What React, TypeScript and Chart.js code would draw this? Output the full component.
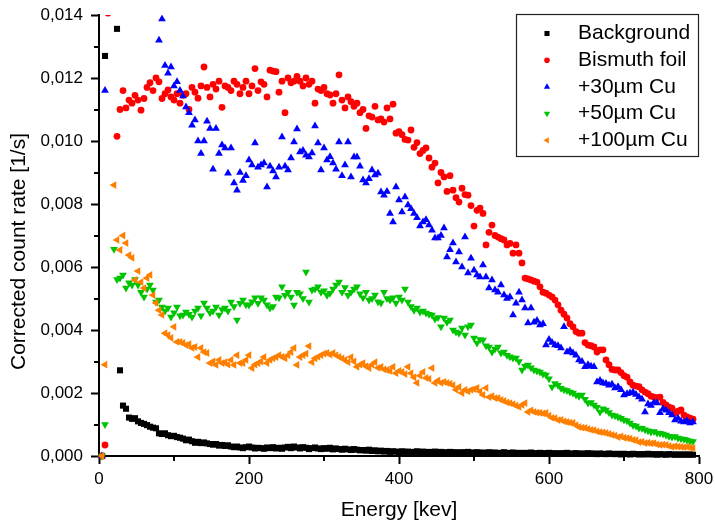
import React, { useEffect, useRef } from "react";
import { Chart, registerables } from "chart.js";

Chart.register(...registerables);

// Energy channels [keV]
const energies = [
  4, 8, 12, 16, 20, 24, 28, 32, 36, 40, 44, 48, 52, 56, 60, 64, 68, 72, 76, 80,
  84, 88, 92, 96, 100, 104, 108, 112, 116, 120, 124, 128, 132, 136, 140, 144, 148, 152, 156, 160,
  164, 168, 172, 176, 180, 184, 188, 192, 196, 200, 204, 208, 212, 216, 220, 224, 228, 232, 236, 240,
  244, 248, 252, 256, 260, 264, 268, 272, 276, 280, 284, 288, 292, 296, 300, 304, 308, 312, 316, 320,
  324, 328, 332, 336, 340, 344, 348, 352, 356, 360, 364, 368, 372, 376, 380, 384, 388, 392, 396, 400,
  404, 408, 412, 416, 420, 424, 428, 432, 436, 440, 444, 448, 452, 456, 460, 464, 468, 472, 476, 480,
  484, 488, 492, 496, 500, 504, 508, 512, 516, 520, 524, 528, 532, 536, 540, 544, 548, 552, 556, 560,
  564, 568, 572, 576, 580, 584, 588, 592, 596, 600, 604, 608, 612, 616, 620, 624, 628, 632, 636, 640,
  644, 648, 652, 656, 660, 664, 668, 672, 676, 680, 684, 688, 692, 696, 700, 704, 708, 712, 716, 720,
  724, 728, 732, 736, 740, 744, 748, 752, 756, 760, 764, 768, 772, 776, 780, 784, 788, 792,
];

// Corrected count rates [1/s]
const background = [
  0, 12.7e-3, null, null, null, 13.56e-3, 2.72e-3, 1.6e-3, 1.5e-3, 1.22e-3,
  1.18e-3, 1.2e-3, 1.1e-3, 1.05e-3, 1.02e-3, 0.98e-3, 0.93e-3, 0.9e-3, 0.88e-3, 0.72e-3,
  0.7e-3, 0.72e-3, 0.66e-3, 0.63e-3, 0.64e-3, 0.6e-3, 0.58e-3, 0.55e-3, 0.5e-3, 0.52e-3,
  0.47e-3, 0.42e-3, 0.45e-3, 0.41e-3, 0.43e-3, 0.4e-3, 0.38e-3, 0.36e-3, 0.38e-3, 0.33e-3,
  0.35e-3, 0.32e-3, 0.34e-3, 0.3e-3, 0.28e-3, 0.3e-3, 0.27e-3, 0.25e-3, 0.28e-3, 0.3e-3,
  0.27e-3, 0.24e-3, 0.26e-3, 0.25e-3, 0.23e-3, 0.27e-3, 0.25e-3, 0.28e-3, 0.24e-3, 0.26e-3,
  0.23e-3, 0.27e-3, 0.29e-3, 0.25e-3, 0.3e-3, 0.27e-3, 0.24e-3, 0.28e-3, 0.26e-3, 0.22e-3,
  0.25e-3, 0.27e-3, 0.24e-3, 0.22e-3, 0.25e-3, 0.23e-3, 0.26e-3, 0.21e-3, 0.24e-3, 0.22e-3,
  0.2e-3, 0.23e-3, 0.21e-3, 0.19e-3, 0.22e-3, 0.2e-3, 0.18e-3, 0.19e-3, 0.17e-3, 0.2e-3,
  0.16e-3, 0.18e-3, 0.15e-3, 0.17e-3, 0.14e-3, 0.16e-3, 0.13e-3, 0.15e-3, 0.14e-3, 0.12e-3,
  0.15e-3, 0.13e-3, 0.14e-3, 0.12e-3, 0.13e-3, 0.15e-3, 0.12e-3, 0.14e-3, 0.11e-3, 0.13e-3,
  0.12e-3, 0.14e-3, 0.11e-3, 0.13e-3, 0.12e-3, 0.1e-3, 0.13e-3, 0.11e-3, 0.12e-3, 0.1e-3,
  0.12e-3, 0.11e-3, 0.13e-3, 0.1e-3, 0.11e-3, 0.12e-3, 0.1e-3, 0.11e-3, 0.09e-3, 0.12e-3,
  0.1e-3, 0.11e-3, 0.09e-3, 0.1e-3, 0.12e-3, 0.09e-3, 0.1e-3, 0.11e-3, 0.09e-3, 0.1e-3,
  0.08e-3, 0.1e-3, 0.09e-3, 0.11e-3, 0.08e-3, 0.09e-3, 0.1e-3, 0.08e-3, 0.09e-3, 0.1e-3,
  0.08e-3, 0.09e-3, 0.07e-3, 0.09e-3, 0.08e-3, 0.1e-3, 0.07e-3, 0.08e-3, 0.09e-3, 0.07e-3,
  0.08e-3, 0.07e-3, 0.09e-3, 0.07e-3, 0.08e-3, 0.06e-3, 0.08e-3, 0.07e-3, 0.06e-3, 0.08e-3,
  0.07e-3, 0.06e-3, 0.07e-3, 0.05e-3, 0.07e-3, 0.06e-3, 0.05e-3, 0.07e-3, 0.06e-3, 0.05e-3,
  0.06e-3, 0.05e-3, 0.07e-3, 0.05e-3, 0.06e-3, 0.04e-3, 0.06e-3, 0.05e-3, 0.04e-3, 0.06e-3,
  0.05e-3, 0.04e-3, 0.05e-3, 0.04e-3, 0.05e-3, 0.04e-3, 0.05e-3, 0.04e-3,
];

const bismuthFoil = [
  0, 0.35e-3, 14.06e-3, null, null, 10.15e-3, 11.0e-3, 11.6e-3, 11.05e-3, 11.3e-3,
  11.2e-3, 11.45e-3, 11.3e-3, 10.98e-3, 11.35e-3, 11.7e-3, 11.85e-3, 11.6e-3, 12.0e-3, 11.88e-3,
  11.35e-3, 11.5e-3, 11.62e-3, 11.4e-3, 11.3e-3, 11.5e-3, 11.2e-3, 11.45e-3, 11.5e-3, 11.0e-3,
  11.7e-3, 11.55e-3, 11.36e-3, 11.75e-3, 12.35e-3, 11.7e-3, 11.4e-3, 11.8e-3, 11.65e-3, 11.9e-3,
  11.07e-3, 11.75e-3, 11.7e-3, 11.6e-3, 11.9e-3, 11.8e-3, 11.5e-3, 11.7e-3, 11.9e-3, 11.5e-3,
  11.75e-3, 12.3e-3, 11.6e-3, 11.88e-3, 11.8e-3, 11.4e-3, 12.25e-3, 12.22e-3, 12.2e-3, 11.55e-3,
  11.9e-3, 10.9e-3, 12.0e-3, 11.85e-3, 11.9e-3, 12.05e-3, 11.9e-3, 11.75e-3, 12.0e-3, 11.8e-3,
  11.9e-3, 11.2e-3, 11.65e-3, 11.6e-3, 11.7e-3, 11.5e-3, 11.46e-3, 11.2e-3, 11.5e-3, 12.1e-3,
  11.3e-3, 11.05e-3, 11.4e-3, 11.25e-3, 11.1e-3, 11.2e-3, 10.9e-3, 11.0e-3, 10.4e-3, 10.8e-3,
  10.76e-3, 11.1e-3, 10.67e-3, 10.7e-3, 10.6e-3, 11.05e-3, 10.7e-3, 11.17e-3, 10.25e-3, 10.3e-3,
  10.2e-3, 10.05e-3, 10.03e-3, 10.35e-3, 9.8e-3, 9.95e-3, 9.6e-3, 9.7e-3, 9.78e-3, 9.46e-3,
  9.17e-3, 9.3e-3, 8.67e-3, 9.0e-3, 8.86e-3, 8.4e-3, 8.9e-3, 8.44e-3, 8.2e-3, 8.06e-3,
  8.5e-3, 8.3e-3, 8.28e-3, 7.95e-3, 7.3e-3, 7.8e-3, 7.87e-3, 7.7e-3, 6.7e-3, 7.1e-3,
  7.33e-3, 7.0e-3, 6.95e-3, 6.9e-3, 6.86e-3, 6.7e-3, 6.75e-3, 6.44e-3, 6.7e-3, 6.44e-3,
  6.13e-3, 5.65e-3, 5.62e-3, 5.59e-3, 5.55e-3, 5.52e-3, 5.37e-3, 5.2e-3, 5.17e-3, 5.11e-3,
  5.05e-3, 4.95e-3, 4.8e-3, 4.63e-3, 4.5e-3, 4.38e-3, 4.2e-3, 4.1e-3, 3.95e-3, 3.9e-3,
  3.9e-3, 3.6e-3, 3.52e-3, 3.5e-3, 3.46e-3, 3.3e-3, 3.37e-3, 3.37e-3, 3.05e-3, 2.9e-3,
  2.75e-3, 2.73e-3, 2.73e-3, 2.65e-3, 2.55e-3, 2.5e-3, 2.35e-3, 2.25e-3, 2.22e-3, 2.2e-3,
  2.1e-3, 2.03e-3, 1.98e-3, 1.9e-3, 1.87e-3, 1.85e-3, 1.87e-3, 1.7e-3, 1.62e-3, 1.55e-3,
  1.52e-3, 1.37e-3, 1.42e-3, 1.46e-3, 1.3e-3, 1.24e-3, 1.2e-3, 1.17e-3,
];

const cu30 = [
  0, 11.6e-3, null, null, null, null, null, null, null, null,
  null, null, null, null, null, null, null, null, null, 13.2e-3,
  13.87e-3, 12.4e-3, 12.15e-3, 12.35e-3, 11.75e-3, 11.88e-3, 11.6e-3, 11.43e-3, 11.08e-3, 10.9e-3,
  10.5e-3, 10.67e-3, 10.0e-3, 9.6e-3, 10.0e-3, 10.63e-3, 10.4e-3, 9.1e-3, 10.4e-3, 9.6e-3,
  9.87e-3, 9.78e-3, 8.98e-3, 9.78e-3, 8.67e-3, 8.44e-3, 9.0e-3, 8.75e-3, 8.9e-3, 9.4e-3,
  9.24e-3, 9.94e-3, 9.17e-3, 9.24e-3, 9.3e-3, 8.54e-3, 9.2e-3, 9.05e-3, 8.86e-3, 9.17e-3,
  10.13e-3, 9.2e-3, 9.08e-3, 9.46e-3, 9.97e-3, 10.38e-3, 9.65e-3, 9.7e-3, 9.55e-3, 9.49e-3,
  9.62e-3, 10.48e-3, 9.94e-3, 9.08e-3, 9.78e-3, 9.4e-3, 9.5e-3, 9.3e-3, 9.1e-3, 9.97e-3,
  8.9e-3, 9.24e-3, 9.97e-3, 8.86e-3, 9.49e-3, 9.49e-3, 9.2e-3, 8.76e-3, 8.67e-3, 8.8e-3,
  9.08e-3, 8.92e-3, 8.98e-3, 8.38e-3, 8.28e-3, 8.4e-3, 7.7e-3, 7.43e-3, 8.54e-3, 8.13e-3,
  7.75e-3, 8.22e-3, 7.97e-3, 7.85e-3, 7.7e-3, 7.56e-3, 7.3e-3, 7.43e-3, 7.5e-3, 7.33e-3,
  7.17e-3, 6.92e-3, 6.92e-3, 7.0e-3, 7.24e-3, 6.32e-3, 6.55e-3, 6.76e-3, 6.16e-3, 6.48e-3,
  6.0e-3, 6.95e-3, 5.81e-3, 6.28e-3, 5.9e-3, 5.75e-3, 5.68e-3, 6.06e-3, 5.68e-3, 5.33e-3,
  5.59e-3, 5.27e-3, 5.2e-3, 5.43e-3, 5.11e-3, 5.0e-3, 5.05e-3, 4.48e-3, 4.85e-3, 5.2e-3,
  4.95e-3, 4.7e-3, 4.22e-3, 4.7e-3, 4.25e-3, 4.3e-3, 4.16e-3, 4.2e-3, 3.52e-3, 3.7e-3,
  3.6e-3, 3.52e-3, 3.5e-3, 3.43e-3, 4.1e-3, 3.3e-3, 3.35e-3, 3.27e-3, 3.2e-3, 3.05e-3,
  3.0e-3, 2.83e-3, 2.9e-3, 2.85e-3, 2.83e-3, 2.35e-3, 2.4e-3, 2.32e-3, 2.3e-3, 2.25e-3,
  2.28e-3, 2.16e-3, 2.2e-3, 2.1e-3, 1.94e-3, 1.98e-3, 2.0e-3, 2.02e-3, 1.95e-3, 1.87e-3,
  1.8e-3, 1.4e-3, 1.65e-3, 1.6e-3, 1.7e-3, 1.68e-3, 1.37e-3, 1.5e-3, 1.45e-3, 1.37e-3,
  1.3e-3, 1.14e-3, 1.2e-3, 1.1e-3, 1.08e-3, 1.12e-3, 1.05e-3, 1.08e-3,
];

const cu50 = [
  0, 1.0e-3, null, null, 6.56e-3, 5.6e-3, 5.65e-3, 5.75e-3, 5.33e-3, 5.5e-3,
  5.43e-3, 5.6e-3, 5.43e-3, 5.2e-3, 5.05e-3, 5.3e-3, 5.43e-3, 5.27e-3, 4.89e-3, 4.95e-3,
  4.73e-3, 4.6e-3, 4.7e-3, 4.41e-3, 4.55e-3, 4.73e-3, 4.45e-3, 4.48e-3, 4.57e-3, 4.5e-3,
  4.41e-3, 4.6e-3, 4.7e-3, 4.45e-3, 4.86e-3, 4.7e-3, 4.55e-3, 4.6e-3, 4.73e-3, 4.48e-3,
  4.65e-3, 4.7e-3, 4.6e-3, 4.89e-3, 4.75e-3, 4.32e-3, 4.85e-3, 4.95e-3, 4.8e-3, 4.79e-3,
  4.9e-3, 5.02e-3, 4.85e-3, 5.02e-3, 4.95e-3, 4.8e-3, 4.7e-3, 4.75e-3, 5.05e-3, 5.02e-3,
  5.37e-3, 5.1e-3, 5.2e-3, 5.05e-3, 4.79e-3, 5.2e-3, 5.15e-3, 5.0e-3, 5.84e-3, 4.89e-3,
  5.27e-3, 5.3e-3, 5.37e-3, 5.2e-3, 5.25e-3, 5.1e-3, 5.17e-3, 5.3e-3, 5.43e-3, 5.52e-3,
  5.2e-3, 5.35e-3, 5.1e-3, 5.2e-3, 5.3e-3, 5.37e-3, 5.15e-3, 5.02e-3, 5.2e-3, 4.95e-3,
  5.0e-3, 5.11e-3, 4.9e-3, 4.86e-3, 5.2e-3, 5.0e-3, 4.95e-3, 5.02e-3, 4.86e-3, 5.05e-3,
  4.95e-3, 5.3e-3, 4.89e-3, 4.75e-3, 4.63e-3, 4.7e-3, 4.57e-3, 4.6e-3, 4.54e-3, 4.5e-3,
  4.48e-3, 4.35e-3, 4.4e-3, 4.1e-3, 4.38e-3, 4.25e-3, 4.32e-3, 4.0e-3, 3.94e-3, 3.9e-3,
  4.06e-3, 3.84e-3, 4.1e-3, 4.16e-3, 3.75e-3, 3.59e-3, 3.7e-3, 3.68e-3, 3.5e-3, 3.46e-3,
  3.3e-3, 3.4e-3, 3.46e-3, 3.27e-3, 3.3e-3, 3.2e-3, 3.15e-3, 3.11e-3, 3.11e-3, 3.0e-3,
  2.73e-3, 2.85e-3, 2.89e-3, 2.8e-3, 2.73e-3, 2.7e-3, 2.67e-3, 2.6e-3, 2.57e-3, 2.45e-3,
  2.19e-3, 2.3e-3, 2.25e-3, 2.15e-3, 2.1e-3, 2.08e-3, 2.03e-3, 2.0e-3, 1.94e-3, 1.9e-3,
  1.94e-3, 1.8e-3, 1.68e-3, 1.7e-3, 1.62e-3, 1.55e-3, 1.4e-3, 1.5e-3, 1.46e-3, 1.38e-3,
  1.3e-3, 1.28e-3, 1.24e-3, 1.2e-3, 1.14e-3, 1.12e-3, 1.05e-3, 0.98e-3, 0.95e-3, 0.89e-3,
  0.88e-3, 0.83e-3, 0.8e-3, 0.76e-3, 0.78e-3, 0.73e-3, 0.72e-3, 0.7e-3, 0.67e-3, 0.63e-3,
  0.6e-3, 0.62e-3, 0.57e-3, 0.55e-3, 0.53e-3, 0.51e-3, 0.48e-3, 0.46e-3,
];

const cu100 = [
  0, 2.9e-3, null, null, 8.6e-3, 6.86e-3, 6.54e-3, 7.0e-3, 6.76e-3, 6.38e-3,
  6.29e-3, 5.59e-3, 5.87e-3, 5.52e-3, 5.33e-3, 5.65e-3, 5.75e-3, 5.11e-3, 4.86e-3, 4.63e-3,
  4.48e-3, 3.9e-3, 3.84e-3, 3.75e-3, 4.1e-3, 3.62e-3, 3.62e-3, 3.59e-3, 3.52e-3, 3.55e-3,
  3.43e-3, 3.46e-3, 3.14e-3, 3.43e-3, 3.3e-3, 3.27e-3, 2.95e-3, 3.0e-3, 2.89e-3, 3.05e-3,
  2.95e-3, 2.98e-3, 2.9e-3, 3.05e-3, 2.89e-3, 3.2e-3, 2.95e-3, 2.95e-3, 3.05e-3, 3.2e-3,
  2.79e-3, 2.9e-3, 2.95e-3, 3.0e-3, 3.14e-3, 2.95e-3, 3.05e-3, 3.1e-3, 3.14e-3, 3.2e-3,
  3.15e-3, 3.1e-3, 3.2e-3, 3.3e-3, 3.43e-3, 2.89e-3, 3.14e-3, 3.2e-3, 3.25e-3, 3.49e-3,
  2.98e-3, 3.1e-3, 3.15e-3, 3.2e-3, 3.25e-3, 3.27e-3, 3.22e-3, 3.27e-3, 3.2e-3, 3.15e-3,
  3.1e-3, 3.05e-3, 2.98e-3, 3.14e-3, 3.0e-3, 2.83e-3, 2.9e-3, 2.95e-3, 2.85e-3, 2.79e-3,
  2.9e-3, 2.98e-3, 2.8e-3, 2.83e-3, 2.75e-3, 2.73e-3, 2.7e-3, 2.83e-3, 2.63e-3, 2.7e-3,
  2.67e-3, 2.6e-3, 2.83e-3, 2.63e-3, 2.5e-3, 2.32e-3, 2.55e-3, 2.67e-3, 2.48e-3, 2.45e-3,
  2.79e-3, 2.32e-3, 2.4e-3, 2.32e-3, 2.35e-3, 2.32e-3, 2.3e-3, 2.25e-3, 2.1e-3, 2.19e-3,
  2.0e-3, 2.1e-3, 2.05e-3, 2.1e-3, 2.12e-3, 2.16e-3, 2.05e-3, 1.94e-3, 2.16e-3, 1.87e-3,
  1.9e-3, 1.84e-3, 1.84e-3, 1.78e-3, 1.75e-3, 1.7e-3, 1.68e-3, 1.65e-3, 1.6e-3, 1.56e-3,
  1.62e-3, 1.68e-3, 1.4e-3, 1.45e-3, 1.4e-3, 1.38e-3, 1.37e-3, 1.35e-3, 1.37e-3, 1.28e-3,
  1.21e-3, 1.2e-3, 1.14e-3, 1.15e-3, 1.1e-3, 1.08e-3, 1.06e-3, 1.05e-3, 0.98e-3, 0.92e-3,
  0.9e-3, 0.89e-3, 0.86e-3, 0.83e-3, 0.82e-3, 0.78e-3, 0.76e-3, 0.75e-3, 0.73e-3, 0.7e-3,
  0.67e-3, 0.65e-3, 0.6e-3, 0.62e-3, 0.58e-3, 0.57e-3, 0.55e-3, 0.51e-3, 0.5e-3, 0.44e-3,
  0.45e-3, 0.41e-3, 0.42e-3, 0.4e-3, 0.41e-3, 0.37e-3, 0.35e-3, 0.36e-3, 0.35e-3, 0.32e-3,
  0.29e-3, 0.31e-3, 0.3e-3, 0.29e-3, 0.28e-3, 0.29e-3, 0.27e-3, 0.25e-3,
];

const seriesLabels = ["Background", "Bismuth foil", "+30µm Cu", "+50µm Cu", "+100µm Cu"];
const seriesValues = [background, bismuthFoil, cu30, cu50, cu100];

const xMinorTicks = [100, 300, 500, 700];
const yMinorTicks = [0.001, 0.003, 0.005, 0.007, 0.009, 0.011, 0.013];
const xTitle = "Energy [kev]";
const yTitle = "Corrected count rate [1/s]";

const FONT = '"Liberation Sans", Arial, Helvetica, sans-serif';

const markerStyles = [
  { color: "#000000", pointStyle: "rect", rotation: 0, radius: 4.3, legendRadius: 3.6 },
  { color: "#ff0000", pointStyle: "circle", rotation: 0, radius: 3.4, legendRadius: 2.8 },
  { color: "#0000ff", pointStyle: "triangle", rotation: 0, radius: 4.5, legendRadius: 3.6 },
  { color: "#00c400", pointStyle: "triangle", rotation: 180, radius: 4.5, legendRadius: 3.6 },
  { color: "#ff8000", pointStyle: "triangle", rotation: 270, radius: 4.5, legendRadius: 3.6 },
];

function drawMarker(ctx: CanvasRenderingContext2D, st: any, x: number, y: number, r: number) {
  ctx.beginPath();
  if (st.pointStyle === "rect") {
    const s = r * Math.SQRT1_2;
    ctx.rect(x - s, y - s, 2 * s, 2 * s);
  } else if (st.pointStyle === "circle") {
    ctx.arc(x, y, r, 0, Math.PI * 2);
  } else {
    const r0 = (st.rotation * Math.PI) / 180;
    for (let k = 0; k < 3; k++) {
      const a = r0 + (k * 2 * Math.PI) / 3;
      const px = x + Math.sin(a) * r;
      const py = y - Math.cos(a) * r;
      if (k === 0) ctx.moveTo(px, py);
      else ctx.lineTo(px, py);
    }
    ctx.closePath();
  }
  ctx.fillStyle = st.color;
  ctx.fill();
}

const decorPlugin = {
  id: "decor",
  afterDraw(chart: any) {
    const ctx: CanvasRenderingContext2D = chart.ctx;
    const area = chart.chartArea;
    const xs = chart.scales.x;
    const ys = chart.scales.y;
    ctx.save();
    // minor ticks
    ctx.strokeStyle = "#000";
    ctx.lineWidth = 2;
    for (const v of xMinorTicks) {
      const px = Math.round(xs.getPixelForValue(v));
      ctx.beginPath();
      ctx.moveTo(px, area.bottom);
      ctx.lineTo(px, area.bottom + 5);
      ctx.stroke();
    }
    for (const v of yMinorTicks) {
      const py = Math.round(ys.getPixelForValue(v));
      ctx.beginPath();
      ctx.moveTo(area.left, py);
      ctx.lineTo(area.left - 5, py);
      ctx.stroke();
    }
    // y title
    ctx.save();
    ctx.translate(19, (area.top + area.bottom) / 2 + 16);
    ctx.rotate(-Math.PI / 2);
    ctx.font = `21px ${FONT}`;
    ctx.fillStyle = "#000";
    ctx.textAlign = "center";
    ctx.textBaseline = "middle";
    ctx.fillText(yTitle, 0, 0);
    ctx.restore();
    // legend
    const bw = 182;
    const bh = 142;
    const bx = area.right - bw - 1;
    const by = area.top - 1;
    ctx.fillStyle = "#fff";
    ctx.fillRect(bx, by, bw, bh);
    ctx.strokeStyle = "#222";
    ctx.lineWidth = 1.2;
    ctx.strokeRect(bx + 0.5, by + 0.5, bw, bh);
    ctx.font = `21px ${FONT}`;
    ctx.textAlign = "left";
    ctx.textBaseline = "middle";
    seriesLabels.forEach((label, i) => {
      const cy = by + 19.5 + i * 26.7;
      drawMarker(ctx, markerStyles[i], bx + 31, cy, markerStyles[i].legendRadius);
      ctx.fillStyle = "#000";
      ctx.fillText(label, bx + 62, cy);
    });
    ctx.restore();
  },
};

export default function App() {
  const ref = useRef<HTMLCanvasElement>(null);
  useEffect(() => {
    if (!ref.current) return;
    const datasets = seriesValues.map((vals, i) => {
      const st = markerStyles[i];
      return {
        label: seriesLabels[i],
        data: energies
          .map((x, j) => ({ x, y: vals[j] }))
          .filter((p) => p.y !== null && p.y !== undefined),
        showLine: false,
        pointStyle: st.pointStyle,
        rotation: st.rotation,
        pointRadius: st.radius,
        pointBorderWidth: 0,
        pointBackgroundColor: st.color,
        pointBorderColor: st.color,
        backgroundColor: st.color,
        borderColor: st.color,
        order: seriesLabels.length - i,
        clip: { left: 5, top: 0, right: 5, bottom: 5 },
      };
    });
    const chart = new Chart(ref.current, {
      type: "scatter",
      data: { datasets: datasets as any },
      plugins: [decorPlugin as any],
      options: {
        animation: false,
        responsive: false,
        devicePixelRatio: 1,
        layout: { padding: { top: 15, right: 16, bottom: 0, left: 0 } },
        plugins: { legend: { display: false }, tooltip: { enabled: false } },
        scales: {
          x: {
            type: "linear",
            position: "bottom",
            min: 0,
            max: 800,
            afterFit: (s: any) => {
              s.height = 67;
              s.paddingLeft = 0;
              s.paddingRight = 0;
            },
            border: { display: true, color: "#000", width: 2 },
            grid: {
              display: true,
              drawOnChartArea: false,
              drawTicks: true,
              tickLength: 8,
              tickWidth: 2,
              tickColor: (c: any) =>
                c.tick && Math.round(c.tick.value) % 200 === 0 ? "#000" : "rgba(0,0,0,0)",
            },
            ticks: {
              stepSize: 100,
              autoSkip: false,
              maxRotation: 0,
              padding: 5,
              color: "#000",
              font: { family: FONT, size: 17 },
              callback: (v: any) => (Math.round(v) % 200 === 0 ? String(Math.round(v)) : ""),
            },
            title: {
              display: true,
              text: xTitle,
              color: "#000",
              font: { family: FONT, size: 21 },
              padding: { top: 0, bottom: 0 },
            },
          },
          y: {
            type: "linear",
            min: 0,
            max: 0.014,
            afterFit: (s: any) => {
              s.width = 99;
              s.paddingTop = 0;
              s.paddingBottom = 0;
            },
            border: { display: true, color: "#000", width: 2 },
            grid: {
              display: true,
              drawOnChartArea: false,
              drawTicks: true,
              tickLength: 8,
              tickWidth: 2,
              tickColor: (c: any) =>
                c.tick && Math.round(c.tick.value * 1000) % 2 === 0 ? "#000" : "rgba(0,0,0,0)",
            },
            ticks: {
              stepSize: 0.001,
              autoSkip: false,
              padding: 8,
              color: "#000",
              font: { family: FONT, size: 17 },
              callback: (v: any) =>
                Math.round(v * 1000) % 2 === 0
                  ? (Math.round(v * 1000) / 1000).toFixed(3).replace(".", ",")
                  : "",
            },
          },
        },
      },
    });
    return () => chart.destroy();
  }, []);
  return (
    <div
      style={{
        position: "fixed",
        left: 0,
        top: 0,
        width: 715,
        height: 523,
        background: "#fff",
      }}
    >
      <canvas ref={ref} width={715} height={523} style={{ display: "block", width: 715, height: 523 }} />
    </div>
  );
}
